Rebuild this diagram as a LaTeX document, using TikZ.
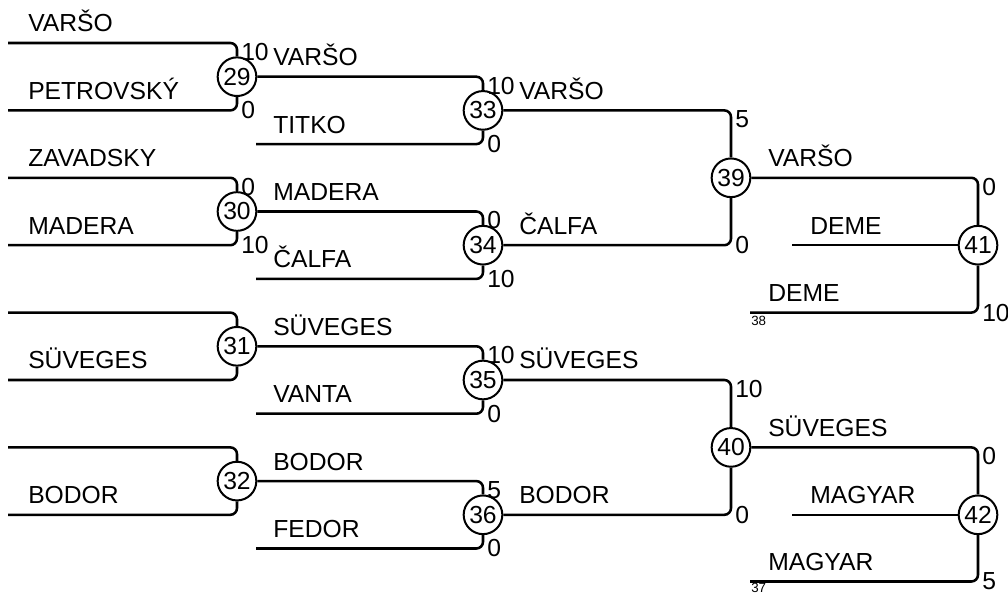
\documentclass[tikz,border=0pt]{standalone}
\usepackage{fontspec}
\setmainfont{Liberation Sans}
\usetikzlibrary{positioning}

\tikzset{
	match/.style={draw, circle, line width=1.5pt, inner sep=0pt, minimum size=29pt, font=\fontsize{18.5}{18.5}\selectfont},
	team/.style={anchor=base west, inner sep=0pt, font=\fontsize{18.5}{18.5}\selectfont},
	score/.style={inner sep=0pt, font=\fontsize{18.5}{18.5}\selectfont},
	seed/.style={anchor=north west, inner sep=0pt, font=\fontsize{10}{10}\selectfont},
	wire/.style={line width=1.9pt, rounded corners=5pt},
}

\begin{document}
\begin{tikzpicture}[x=0.75pt, y=-0.75pt]
\useasboundingbox (0,0) rectangle (1008,595);
% matches
	\node[match] (m29) at (237,76.7) {29};
	\node[match] (m30) at (237,211.5) {30};
	\node[match] (m31) at (237,346.3) {31};
	\node[match] (m32) at (237,481.1) {32};
	\node[match] (m33) at (483,110.4) {33};
	\node[match] (m34) at (483,245.2) {34};
	\node[match] (m35) at (483,380) {35};
	\node[match] (m36) at (483,514.8) {36};
	\node[match] (m39) at (731,177.8) {39};
	\node[match] (m40) at (731,447.4) {40};
	\node[match] (m41) at (978,245.2) {41};
	\node[match] (m42) at (978,514.8) {42};
% free ends of the lines
	\coordinate (p1) at (8,43);
	\coordinate (p2) at (8,110.4);
	\coordinate (p3) at (8,177.8);
	\coordinate (p4) at (8,245.2);
	\coordinate (p5) at (8,312.6);
	\coordinate (p6) at (8,380);
	\coordinate (p7) at (8,447.4);
	\coordinate (p8) at (8,514.8);
	\coordinate (q1) at (256,144.1);
	\coordinate (q2) at (256,278.9);
	\coordinate (q3) at (256,413.7);
	\coordinate (q4) at (256,548.5);
	\coordinate (r1) at (792,245.2);
	\coordinate (r2) at (750,312.6);
	\coordinate (r3) at (792,514.8);
	\coordinate (r4) at (750,581.5);
% first round
	\draw[wire] (p1) -| (m29.north);
	\draw[wire] (p2) -| (m29.south);
	\draw[wire] (p3) -| (m30.north);
	\draw[wire] (p4) -| (m30.south);
	\draw[wire] (p5) -| (m31.north);
	\draw[wire] (p6) -| (m31.south);
	\draw[wire] (p7) -| (m32.north);
	\draw[wire] (p8) -| (m32.south);
% second round
	\draw[wire] (m29.east) -| (m33.north);
	\draw[wire] (q1) -| (m33.south);
	\draw[wire] (m30.east) -| (m34.north);
	\draw[wire] (q2) -| (m34.south);
	\draw[wire] (m31.east) -| (m35.north);
	\draw[wire] (q3) -| (m35.south);
	\draw[wire] (m32.east) -| (m36.north);
	\draw[wire] (q4) -| (m36.south);
% third round
	\draw[wire] (m33.east) -| (m39.north);
	\draw[wire] (m34.east) -| (m39.south);
	\draw[wire] (m35.east) -| (m40.north);
	\draw[wire] (m36.east) -| (m40.south);
% last round
	\draw[wire] (m39.east) -| (m41.north);
	\draw[wire] (r1) -- (m41.west);
	\draw[wire] (r2) -| (m41.south);
	\draw[wire] (m40.east) -| (m42.north);
	\draw[wire] (r3) -- (m42.west);
	\draw[wire] (r4) -| (m42.south);
% team names
	\node[team] (t1) at (28,32) {VARŠO};
	\node[team] (t2) at (28,99.4) {PETROVSKÝ};
	\node[team] (t3) at (28,166.8) {ZAVADSKY};
	\node[team] (t4) at (28,234.2) {MADERA};
	\node[team] (t5) at (28,369) {SÜVEGES};
	\node[team] (t6) at (28,503.8) {BODOR};
	\node[team] (u1) at (273,65.7) {VARŠO};
	\node[team] (u2) at (273,133.1) {TITKO};
	\node[team] (u3) at (273,200.5) {MADERA};
	\node[team] (u4) at (273,267.9) {ČALFA};
	\node[team] (u5) at (273,335.3) {SÜVEGES};
	\node[team] (u6) at (273,402.7) {VANTA};
	\node[team] (u7) at (273,470.1) {BODOR};
	\node[team] (u8) at (273,537.5) {FEDOR};
	\node[team] (v1) at (519,99.4) {VARŠO};
	\node[team] (v2) at (519,234.2) {ČALFA};
	\node[team] (v3) at (519,369) {SÜVEGES};
	\node[team] (v4) at (519,503.8) {BODOR};
	\node[team] (w1) at (768,166.8) {VARŠO};
	\node[team] (w2) at (810,234.2) {DEME};
	\node[team] (w3) at (768,301.6) {DEME};
	\node[team] (w4) at (768,436.4) {SÜVEGES};
	\node[team] (w5) at (810,503.8) {MAGYAR};
	\node[team] (w6) at (768,570.5) {MAGYAR};
	\node[seed] (n38) at (751,316) {38};
	\node[seed] (n37) at (751,583) {37};
% scores
	\node[score, anchor=north west] (s29a) at (241,43) {10};
	\node[score, anchor=west] (s29b) at (241,110.4) {0};
	\node[score, anchor=north west] (s30a) at (241,177.8) {0};
	\node[score, anchor=west] (s30b) at (241,245.2) {10};
	\node[score, anchor=north west] (s33a) at (487,76.7) {10};
	\node[score, anchor=west] (s33b) at (487,144.1) {0};
	\node[score, anchor=north west] (s34a) at (487,211.5) {0};
	\node[score, anchor=west] (s34b) at (487,278.9) {10};
	\node[score, anchor=north west] (s35a) at (487,346.3) {10};
	\node[score, anchor=west] (s35b) at (487,413.7) {0};
	\node[score, anchor=north west] (s36a) at (487,481.1) {5};
	\node[score, anchor=west] (s36b) at (487,548.5) {0};
	\node[score, anchor=north west] (s39a) at (735,110.4) {5};
	\node[score, anchor=west] (s39b) at (735,245.2) {0};
	\node[score, anchor=north west] (s40a) at (735,380) {10};
	\node[score, anchor=west] (s40b) at (735,514.8) {0};
	\node[score, anchor=north west] (s41a) at (982,177.8) {0};
	\node[score, anchor=west] (s41b) at (982,312.6) {10};
	\node[score, anchor=north west] (s42a) at (982,447.4) {0};
	\node[score, anchor=west] (s42b) at (982,581.5) {5};
\end{tikzpicture}
\end{document}
